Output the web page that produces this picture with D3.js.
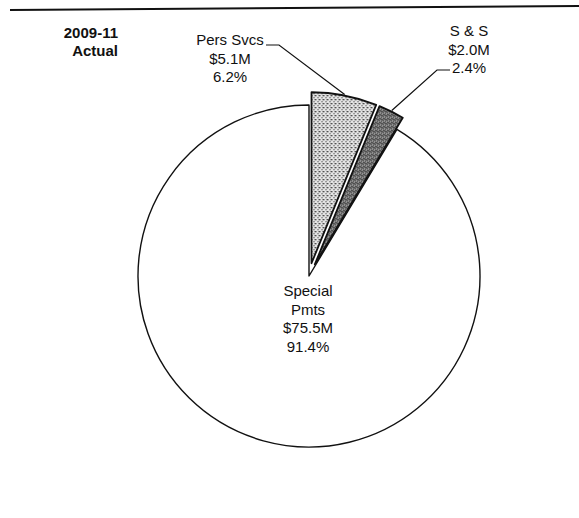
<!DOCTYPE html>
<html>
<head>
<meta charset="utf-8">
<script src="https://cdn.jsdelivr.net/npm/d3@7"></script>
<style>
  body { margin: 0; background: #fff; }
  text { font-family: "Liberation Sans", Arial, sans-serif; fill: #111; }
</style>
</head>
<body>
<div id="chart"></div>
<script>
// slices, clockwise from 12 o'clock
var categories = ["Pers Svcs", "S & S", "Special Pmts"];
var values     = [5.1, 2.0, 75.5];          // $M
var valueLabels = ["$5.1M", "$2.0M", "$75.5M"];
var pctLabels   = ["6.2%", "2.4%", "91.4%"];
var nameLines   = [["Pers Svcs"], ["S & S"], ["Special", "Pmts"]];
var exploded    = [true, true, false];
var titleLines  = ["2009-11", "Actual"];

var width = 579, height = 518;
var cx = 309, cy = 276, radius = 171, explode = 13;

var svg = d3.select("#chart").append("svg")
    .attr("width", width)
    .attr("height", height);

// stipple fills like the scanned print
var defs = svg.append("defs");
function stipple(id, bg, dots) {
	var p = defs.append("pattern")
		.attr("id", id)
		.attr("patternUnits", "userSpaceOnUse")
		.attr("width", 4).attr("height", 4);
	p.append("rect").attr("width", 4).attr("height", 4).attr("fill", bg);
	dots.forEach(function(d) {
		p.append("rect").attr("x", d[0]).attr("y", d[1])
			.attr("width", 1).attr("height", 1).attr("fill", "#222");
	});
}
stipple("light", "#e4e4e4", [[0, 0], [2, 2], [3, 0]]);
stipple("dark", "#9a9a9a", [[0, 0], [1, 2], [2, 1], [3, 3], [2, 3], [0, 2]]);
var fills = ["url(#light)", "url(#dark)", "#fff"];

// rule across the top of the page
svg.append("line")
	.attr("x1", 10).attr("y1", 10)
	.attr("x2", 579).attr("y2", 6)
	.attr("stroke", "#111")
	.attr("stroke-width", 2);

var pie = d3.pie().sort(null).value(function(d) { return d; });
var arcs = pie(values);
var arc = d3.arc().innerRadius(0).outerRadius(radius);

function offsetOf(d, i) {
	if (!exploded[i]) return [0, 0];
	var a = (d.startAngle + d.endAngle) / 2;
	return [Math.sin(a) * explode, -Math.cos(a) * explode];
}

var g = svg.append("g").attr("transform", "translate(" + cx + "," + cy + ")");

// draw the big slice first, exploded ones on top
var order = [2, 0, 1];
order.forEach(function(i) {
	var d = arcs[i];
	var o = offsetOf(d, i);
	g.append("path")
		.attr("d", arc(d))
		.attr("transform", "translate(" + o[0] + "," + o[1] + ")")
		.attr("fill", fills[i])
		.attr("stroke", "#111")
		.attr("stroke-width", exploded[i] ? 1.8 : 1.4)
		.attr("stroke-linejoin", "round");
});

// labels
var lh = 18.5;
function label(lines, x, y) {
	var t = svg.append("text")
		.attr("text-anchor", "middle")
		.attr("font-size", 15);
	lines.forEach(function(s, k) {
		t.append("tspan").attr("x", x).attr("y", y + k * lh).text(s);
	});
}

var labelPos = [[230, 45], [469, 36], [308, 296]];
categories.forEach(function(c, i) {
	var lines = nameLines[i].concat([valueLabels[i], pctLabels[i]]);
	label(lines, labelPos[i][0], labelPos[i][1]);
});

// leader lines: text end -> slice edge at mid-angle
function edgePoint(i) {
	var d = arcs[i];
	var a = (d.startAngle + d.endAngle) / 2;
	var o = offsetOf(d, i);
	return [cx + o[0] + Math.sin(a) * (radius + 1), cy + o[1] - Math.cos(a) * (radius + 1)];
}
var leaders = [
	{ from: [266, 45], knee: [279, 45], slice: 0 },
	{ from: [450, 70], knee: [437, 70], slice: 1 }
];
leaders.forEach(function(l) {
	var e = edgePoint(l.slice);
	svg.append("path")
		.attr("d", d3.line()([l.from, l.knee, e]))
		.attr("fill", "none")
		.attr("stroke", "#111")
		.attr("stroke-width", 1.2);
});

// title
var tt = svg.append("text")
	.attr("text-anchor", "end")
	.attr("font-size", 15)
	.attr("font-weight", "bold");
titleLines.forEach(function(s, k) {
	tt.append("tspan").attr("x", 118).attr("y", 38 + k * 18).text(s);
});
</script>
</body>
</html>
